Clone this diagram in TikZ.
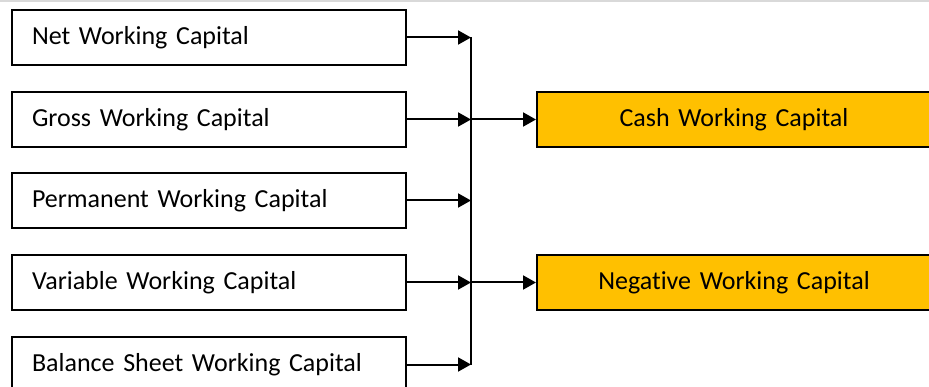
\documentclass[tikz,border=0pt]{standalone}
\usepackage{fontspec}
\setmainfont{Carlito}[Ligatures={NoCommon},WordSpace=0.75]
\usetikzlibrary{arrows.meta}
\definecolor{boxorange}{HTML}{FFC000}
\definecolor{topgray}{HTML}{D9D9D9}
\begin{document}
\begin{tikzpicture}[x=1pt,y=-1pt,
  leftbox/.style={draw=black,line width=2pt,minimum height=55pt,
    text width=354pt,inner xsep=20pt,align=left,font=\fontsize{26}{29}\selectfont},
  rightbox/.style={draw=black,line width=2pt,fill=boxorange,minimum height=55pt,
    text width=374pt,inner xsep=10pt,align=center,font=\fontsize{26}{29}\selectfont},
  conn/.style={line width=2pt,-{Triangle[length=13pt,width=14pt]}},
  bus/.style={line width=2pt}]
\useasboundingbox (0,0) rectangle (929,387);
\draw[topgray,line width=2pt] (0,1) -- (929,1);
\node[leftbox] (n1) at (209,37.5) {Net Working Capital};
\node[leftbox] (n2) at (209,119.5) {Gross Working Capital};
\node[leftbox] (n3) at (209,200.5) {Permanent Working Capital};
\node[leftbox] (n4) at (209,282.5) {Variable Working Capital};
\node[leftbox] (n5) at (209,364.5) {Balance Sheet Working Capital};
\node[rightbox] (r1) at (734,119.5) {Cash Working Capital};
\node[rightbox] (r2) at (734,282.5) {Negative Working Capital};
\coordinate (j1) at (471,37.5);
\coordinate (j2) at (471,119.5);
\coordinate (j3) at (471,200.5);
\coordinate (j4) at (471,282.5);
\coordinate (j5) at (471,364.5);
\draw[bus] (j1) -- (j5);
\draw[conn] (n1.east) -- (j1);
\draw[conn] (n2.east) -- (j2);
\draw[conn] (n3.east) -- (j3);
\draw[conn] (n4.east) -- (j4);
\draw[conn] (n5.east) -- (j5);
\draw[conn] (j2) -- (r1.west);
\draw[conn] (j4) -- (r2.west);
\end{tikzpicture}
\end{document}
